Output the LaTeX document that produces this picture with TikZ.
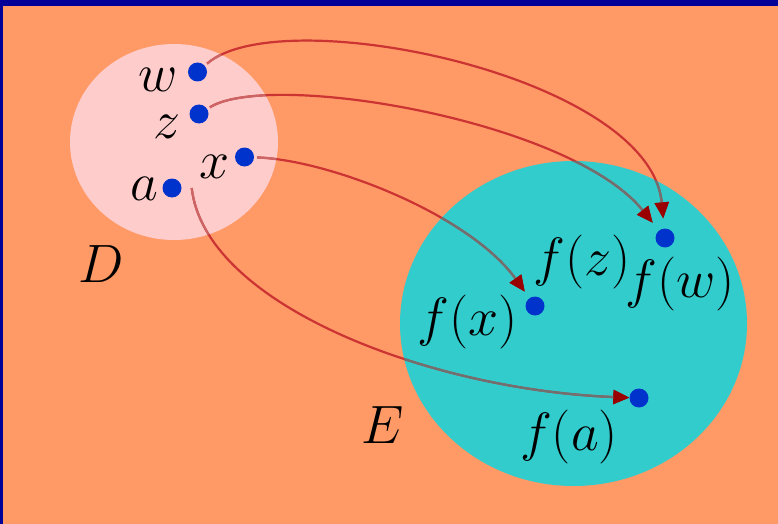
\documentclass[tikz,border=0pt]{standalone}
\usepackage{fix-cm}
\usetikzlibrary{arrows.meta}
\definecolor{framenavy}{HTML}{000099}
\definecolor{bgorange}{HTML}{FF9966}
\definecolor{setpink}{HTML}{FFCCCC}
\definecolor{setcyan}{HTML}{33CCCC}
\definecolor{dotblue}{HTML}{0033CC}
\definecolor{linered}{HTML}{CC3333}
\definecolor{linerose}{HTML}{CC6666}
\definecolor{linegray}{HTML}{707070}
\definecolor{tipred}{HTML}{990000}
\tikzset{
  bluedot/.style={circle, fill=dotblue, inner sep=0pt, minimum size=19pt},
  maplabel/.style={anchor=base, inner sep=0pt, font=\fontsize{54}{60}\selectfont},
  mapline/.style={line width=2.2pt, -{Triangle[length=16pt,width=14pt,color=tipred]}},
}
% the four arrows, drawn once per colour
\newcommand\mapcurves[1]{%
  \draw[mapline, draw=#1, shorten <=3pt, shorten >=10pt] (dw) .. controls (280,0) and (650,75) .. (ew);
  \draw[mapline, draw=#1, shorten <=3pt, shorten >=10pt] (dz) .. controls (270,70) and (570,120) .. (ew);
  \draw[mapline, draw=#1, shorten <=3pt, shorten >=8pt] (dx) .. controls (330,160) and (470,215) .. (ex);
  \draw[mapline, draw=#1] ([xshift=10pt]da.east) .. controls (205,305) and (430,390) .. (ea);
}
\begin{document}
\begin{tikzpicture}[x=1pt,y=-1pt]
\useasboundingbox (0,0) rectangle (778,524);
\fill[framenavy] (0,0) rectangle (778,524);
\fill[bgorange] (3,6) rectangle (778,524);
% the two sets
\fill[setpink] (174,142) ellipse (104 and 98);
\fill[setcyan] (573.5,323.5) ellipse (173.5 and 162.5);
% points of D
\node[bluedot] (dw) at (197.5,72) {};
\node[bluedot] (dz) at (199,114) {};
\node[bluedot] (dx) at (244.5,157) {};
\node[bluedot] (da) at (172,188) {};
% points of E
\node[bluedot] (ew) at (665,238) {};
\node[bluedot] (ex) at (535,306) {};
\node[bluedot] (ea) at (639,398) {};
% arrows
\mapcurves{linered}
\begin{scope}
\clip (174,142) ellipse (104 and 98);
\mapcurves{linerose}
\end{scope}
\begin{scope}
\clip (573.5,323.5) ellipse (173.5 and 162.5);
\mapcurves{linegray}
\end{scope}
% labels
\node[maplabel] (lw) at (158,92) {$w$};
\node[maplabel] (lz) at (167,138) {$z$};
\node[maplabel] (lx) at (215,178) {$x$};
\node[maplabel] (la) at (144,200) {$a$};
\node[maplabel] (ld) at (101,282) {$D$};
\node[maplabel] (le) at (383,443) {$E$};
\node[maplabel] (lfz) at (582,275) {$f(z)$};
\node[maplabel] (lfw) at (680,297) {$f(w)$};
\node[maplabel] (lfx) at (468,335) {$f(x)$};
\node[maplabel] (lfa) at (569,450) {$f(a)$};
\end{tikzpicture}
\end{document}
